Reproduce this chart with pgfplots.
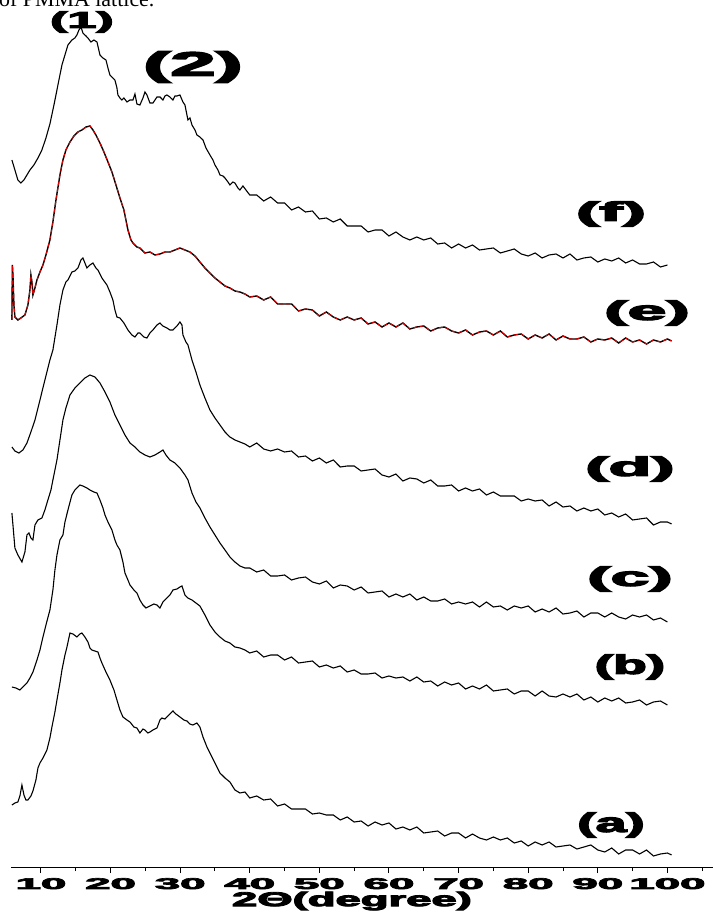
\documentclass[border=0pt]{standalone}
\usepackage{graphicx}
\usepackage{pgfplots}
\usepackage{pgfplotstable}
\pgfplotsset{compat=1.18}
\usepackage{fontspec}
\setmainfont{Liberation Sans}
\newfontfamily\heavy{Liberation Sans}[UprightFont=* Bold, FakeBold=4]
\newfontfamily\serifcap{Liberation Serif}
\newcommand\T[1]{\scalebox{2.95}[1]{#1}}
\newcommand\Lab[3]{{\heavy\fontsize{#1}{#1}\selectfont\scalebox{#2}[1]{#3}}}

\pgfplotstableread{
x y
5.83 753
6.26 743
6.69 733
7.12 730
7.56 733
7.99 738
8.42 743
8.99 748
9.57 755
10.14 763
10.72 775
11.29 789
11.87 808
12.30 823
12.73 838
13.02 848
13.45 858
13.88 868
14.45 873
14.88 875
15.17 878
15.46 883
15.75 886
16.03 880
16.47 877
16.75 875
17.18 871
17.61 873
18.05 871
18.48 858
18.91 855
19.34 853
19.63 845
19.91 838
20.34 835
20.63 833
20.92 825
21.06 818
21.35 815
21.64 813
21.92 815
22.36 811
22.79 813
23.22 813
23.51 819
23.79 809
24.22 808
24.66 815
24.94 821
25.23 818
25.66 810
26.09 810
26.38 813
26.67 816
27.10 816
27.53 813
27.82 817
28.10 818
28.53 816
28.97 813
29.25 817
29.54 817
29.97 818
30.40 811
30.69 808
31.12 793
31.41 795
31.70 788
32.13 783
32.41 778
32.84 776
33.28 773
33.71 765
34.28 758
34.71 753
35.00 748
35.43 743
35.72 738
36.15 737
36.44 735
36.87 731
37.15 728
37.59 731
37.87 730
38.30 725
38.59 723
39.02 727
39.45 723
40 718
41 718
42 712
43 716
44 710
45 710
46 703
47 706
48 701
49 702
50 694
51 695
52 691
53 694
54 687
55 687
56 687
57 681
58 683
59 683
60 677
61 681
62 676
63 673
64 676
65 673
66 675
67 669
68 670
69 665
70 669
71 665
72 668
73 663
74 664
75 665
76 660
77 662
78 664
79 659
80 657
81 660
82 655
83 658
84 659
85 655
86 659
87 653
88 655
89 656
90 651
91 654
92 652
93 655
94 650
95 653
96 649
97 649
98 651
99 646
100 648
}\tabF

\pgfplotstableread{
x y
5.83 593
5.90 648
5.98 638
6.12 608
6.26 596
6.69 593
7.12 595
7.70 598
8.13 608
8.42 623
8.56 638
8.71 631
8.85 618
9.14 625
9.43 633
9.86 641
10.29 648
10.72 658
11.29 673
11.72 691
12.16 713
12.73 738
13.16 753
13.59 763
14.17 771
14.74 777
15.32 781
15.89 783
16.47 786
17.04 787
17.47 783
17.90 778
18.48 770
19.05 761
19.63 751
20.20 741
20.78 728
21.35 715
21.92 703
22.50 683
22.93 673
23.22 670
23.79 666
24.22 665
24.94 660
25.66 661
26.38 658
27.10 659
27.82 661
28.53 661
29.25 663
29.97 665
30.69 663
31.41 661
32.13 657
32.84 651
33.56 645
34.28 640
35.00 635
35.72 631
36.44 627
37.15 625
37.87 622
38.59 621
39.31 619
40 616
41 617
42 613
43 616
44 609
45 609
46 609
47 602
48 604
49 603
50 597
51 601
52 596
53 593
54 596
55 593
56 595
57 589
58 591
59 586
60 590
61 586
62 590
63 584
64 586
65 587
66 582
67 585
68 586
69 582
70 580
71 583
72 578
73 581
74 582
75 578
76 582
77 576
78 578
79 579
80 574
81 578
82 575
83 579
84 573
85 577
86 574
87 574
88 576
89 571
90 574
91 573
92 575
93 570
94 575
95 571
96 573
97 569
98 573
99 571
100 574
100.6 572
}\tabE

\pgfplotstableread{
x y
5.83 466
6.26 462
6.84 460
7.41 463
7.99 470
8.56 481
9.14 493
9.86 513
10.57 533
11.29 553
11.72 563
12.30 588
12.73 608
13.16 623
13.59 631
13.88 633
14.45 641
14.88 642
15.32 645
15.75 653
16.03 655
16.32 650
16.61 645
17.04 648
17.47 650
17.90 645
18.19 643
18.76 635
19.48 628
19.91 621
20.34 613
20.63 603
20.92 596
21.35 595
21.92 590
22.50 583
23.07 578
23.51 576
23.94 580
24.22 580
24.79 576
25.23 575
25.66 580
26.09 583
26.67 588
27.10 590
27.53 587
28.10 585
28.53 583
28.97 583
29.54 587
29.97 591
30.26 588
30.40 578
30.83 571
31.12 568
31.70 553
32.27 541
32.84 528
33.56 515
34.28 503
35.00 495
35.72 488
36.44 481
37.15 476
37.87 473
38.59 471
39.31 469
40 466
41 470
42 464
43 462
44 464
45 461
46 462
47 456
48 457
49 452
50 455
51 450
52 453
53 446
54 447
55 447
56 442
57 443
58 444
59 438
60 436
61 439
62 432
63 435
64 434
65 430
66 433
67 427
68 427
69 428
70 422
71 425
72 422
73 424
74 418
75 421
76 417
77 417
78 417
79 412
80 414
81 412
82 413
83 407
84 411
85 406
86 407
87 402
88 405
89 402
90 404
91 398
92 400
93 396
94 399
95 393
96 394
97 395
98 388
99 391
100 391
100.6 389
}\tabD

\pgfplotstableread{
x y
5.83 400
5.98 388
6.26 365
6.69 358
7.27 351
7.70 361
7.99 378
8.28 380
8.56 375
8.85 373
9.14 388
9.57 393
10.14 395
10.57 403
11.00 413
11.44 423
11.72 433
12.30 453
12.73 473
13.16 493
13.59 505
14.17 518
14.88 525
15.60 530
16.32 535
17.04 538
17.76 536
18.48 530
19.20 521
19.91 511
20.63 498
21.35 488
22.07 478
22.79 470
23.51 466
24.22 461
24.94 458
25.66 456
26.38 458
27.10 461
27.53 463
27.96 458
28.53 453
29.25 450
29.97 445
30.69 438
31.12 433
31.70 420
32.27 411
32.84 405
33.56 395
34.28 386
35.00 378
35.72 370
36.44 363
37.15 356
37.87 351
38.59 347
39.31 345
40 345
41 341
42 343
43 337
44 337
45 338
46 333
47 335
48 336
49 331
50 329
51 332
52 325
53 328
54 327
55 323
56 326
57 320
58 321
59 322
60 316
61 319
62 316
63 319
64 313
65 316
66 312
67 312
68 314
69 309
70 311
71 309
72 311
73 306
74 311
75 306
76 307
77 303
78 307
79 305
80 307
81 301
82 304
83 301
84 305
85 299
86 300
87 302
88 296
89 300
90 300
91 296
92 300
93 296
94 294
95 298
96 296
97 298
98 293
99 295
100 291
}\tabC

\pgfplotstableread{
x y
5.83 226
6.41 225
6.98 223
7.56 227
7.99 230
8.42 235
8.85 241
9.43 253
9.86 263
10.29 276
10.72 288
11.29 303
11.72 323
12.01 343
12.30 358
12.73 373
13.16 378
13.45 391
13.88 403
14.45 418
14.88 423
15.32 426
15.60 428
16.03 427
16.61 425
17.04 423
17.61 421
18.05 420
18.48 413
18.91 405
19.20 398
19.63 391
20.20 383
20.63 373
20.92 368
21.35 363
21.78 351
22.07 340
22.50 333
22.79 328
23.36 323
23.79 320
24.22 313
24.66 308
25.09 305
25.66 307
26.24 309
26.67 308
27.10 305
27.53 311
27.82 313
28.25 316
28.53 318
28.97 323
29.54 324
29.97 326
30.26 327
30.69 318
31.12 315
31.70 313
32.27 310
32.84 307
33.56 298
34.28 288
35.00 281
35.72 276
36.44 272
37.15 270
37.87 266
38.59 265
39.31 263
40 260
41 262
42 256
43 258
44 258
45 253
46 256
47 250
48 251
49 252
50 246
51 248
52 245
53 247
54 241
55 243
56 239
57 239
58 240
59 235
60 237
61 235
62 236
63 232
64 236
65 231
66 232
67 227
68 231
69 228
70 230
71 224
72 227
73 224
74 228
75 222
76 223
77 224
78 219
79 222
80 222
81 217
82 222
83 217
84 216
85 219
86 216
87 219
88 213
89 216
90 211
91 215
92 212
93 215
94 210
95 211
96 213
97 208
98 211
99 212
100 208
}\tabB

\pgfplotstableread{
x y
5.83 108
6.26 110
6.69 111
6.98 117
7.27 128
7.56 118
7.84 113
8.13 113
8.56 117
8.85 122
9.28 133
9.57 145
9.86 150
10.29 155
10.86 163
11.29 175
11.58 186
12.01 201
12.30 213
12.73 230
13.02 243
13.45 258
13.74 266
14.17 280
14.60 279
15.17 276
15.60 279
15.89 280
16.32 276
16.75 271
17.04 265
17.33 263
17.76 262
18.19 261
18.48 255
18.76 250
19.34 241
19.91 233
20.49 223
20.92 213
21.35 203
21.78 196
22.36 193
22.79 191
23.36 186
23.79 185
24.22 180
24.66 184
24.94 183
25.37 180
25.66 181
26.09 183
26.67 185
27.10 193
27.39 195
27.82 194
28.10 196
28.53 199
28.97 202
29.39 199
29.97 196
30.54 193
30.98 192
31.41 189
31.84 188
32.41 190
32.84 186
33.28 176
33.85 166
34.28 160
35.00 150
35.72 140
36.44 135
37.15 131
37.87 123
38.59 120
39.31 121
40 115
41 117
42 113
43 114
44 107
45 109
46 104
47 104
48 104
49 99
50 100
51 98
52 98
53 93
54 96
55 91
56 92
57 87
58 91
59 88
60 90
61 84
62 86
63 83
64 86
65 80
66 81
67 82
68 77
69 80
70 80
71 75
72 79
73 75
74 73
75 76
76 73
77 75
78 70
79 72
80 67
81 71
82 68
83 71
84 66
85 67
86 68
87 64
88 66
89 68
90 63
91 61
92 65
93 59
94 63
95 63
96 59
97 63
98 57
99 59
100 60
100.6 58
}\tabA

\begin{document}
\begin{tikzpicture}
\useasboundingbox (0,0) rectangle (713bp,913bp);
\clip (0,0) rectangle (713bp,913bp);
\node[anchor=base west, inner sep=0pt] at (-1bp,906bp) {\serifcap\fontsize{22}{22}\selectfont of PMMA lattice.};
\begin{axis}[
  at={(11bp,45bp)}, anchor=south west,
  scale only axis, width=702bp, height=868bp,
  xmin=5.7, xmax=106.55, ymin=45, ymax=913,
  axis x line=bottom, axis y line=none,
  axis line style={-, line width=1bp},
  clip=false,
  xtick={10,20,...,100},
  minor xtick={15,25,...,105},
  xticklabels={\T{10},\T{20},\T{30},\T{40},\T{50},\T{60},\T{70},\T{80},\T{90},\T{100}},
  xticklabel style={font=\heavy\fontsize{15.5}{15.5}\selectfont, inner sep=2pt, yshift=-3bp},
  tick align=outside,
  major tick length=5bp, minor tick length=3bp,
  tick style={black, line width=1bp},
]
\addplot[black, line width=1.1bp] table {\tabA};
\addplot[black, line width=1.1bp] table {\tabB};
\addplot[black, line width=1.1bp] table {\tabC};
\addplot[black, line width=1.1bp] table {\tabD};
\addplot[black, line width=1.4bp] table {\tabE};
\addplot[red!85!black, line width=1bp, dash pattern=on 4bp off 3bp] table {\tabE};
\addplot[black, line width=1.1bp] table {\tabF};
\node at (axis cs:15.89,891) {\Lab{23}{2.27}{(1)}};
\node at (axis cs:31.84,846) {\Lab{34}{2.4}{(2)}};
\node at (axis cs:91.90,699) {\Lab{27}{2.6}{(f)}};
\node at (axis cs:97.07,600) {\Lab{27}{2.6}{(e)}};
\node at (axis cs:94.62,444) {\Lab{27}{2.6}{(d)}};
\node at (axis cs:94.62,334) {\Lab{27}{2.6}{(c)}};
\node at (axis cs:94.62,246) {\Lab{27}{2.05}{(b)}};
\node at (axis cs:91.90,88) {\Lab{27}{2.05}{(a)}};
\node at (axis cs:54.68,12) {\Lab{20}{2.28}{2Θ(degree)}};
\end{axis}
\end{tikzpicture}
\end{document}
